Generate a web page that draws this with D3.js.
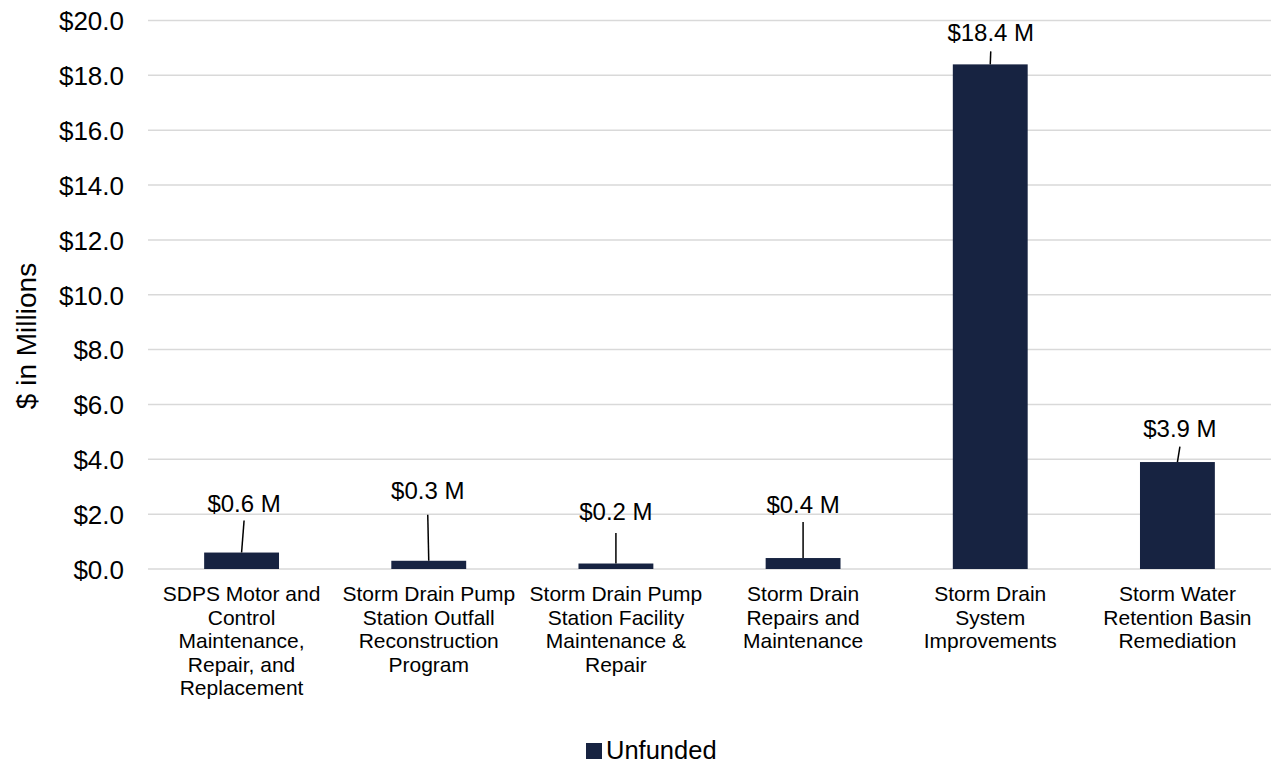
<!DOCTYPE html>
<html>
<head>
<meta charset="utf-8">
<script src="https://cdn.jsdelivr.net/npm/d3@7"></script>
<style>
  html, body { margin: 0; padding: 0; background: #ffffff; }
  svg { display: block; font-family: "Liberation Sans", Arial, sans-serif; }
</style>
</head>
<body>
<svg id="chart" width="1272" height="763"></svg>
<script>
// ---- data ----
const categories = [
  ["SDPS Motor and", "Control", "Maintenance,", "Repair, and", "Replacement"],
  ["Storm Drain Pump", "Station Outfall", "Reconstruction", "Program"],
  ["Storm Drain Pump", "Station Facility", "Maintenance &", "Repair"],
  ["Storm Drain", "Repairs and", "Maintenance"],
  ["Storm Drain", "System", "Improvements"],
  ["Storm Water", "Retention Basin", "Remediation"]
];
const unfunded = [0.6, 0.3, 0.2, 0.4, 18.4, 3.9];
const dataLabels = ["$0.6 M", "$0.3 M", "$0.2 M", "$0.4 M", "$18.4 M", "$3.9 M"];
const yTicks = [0, 2, 4, 6, 8, 10, 12, 14, 16, 18, 20];
const seriesName = "Unfunded";
const yTitle = "$ in Millions";

// ---- layout (label placement, px) ----
const labelDX = [2.5, -1, 0, 0, 0.5, 2.5];
const labelLift = [41, 62, 43.5, 45.5, 23, 25.5];
const leaderGap = [9, 16, 13, 9.5, 10, 10];

const svg = d3.select("#chart");
const margin = { left: 148, right: 1, top: 20.5, bottom: 194 };
const W = 1272, H = 763;
const x = d3.scaleBand().domain(d3.range(categories.length)).range([margin.left, W - margin.right]).padding(0);
const y = d3.scaleLinear().domain([0, 20]).range([H - margin.bottom, margin.top]);
const barColor = "#172341";

// gridlines
svg.append("g").selectAll("line").data(yTicks).join("line")
  .attr("x1", margin.left).attr("x2", W - margin.right)
  .attr("y1", d => y(d)).attr("y2", d => y(d))
  .attr("stroke", "#d9d9d9").attr("stroke-width", 1.5);

// y axis labels
const yAxis = d3.axisLeft(y).tickValues(yTicks).tickFormat(d => "$" + d3.format(".1f")(d)).tickSize(0).tickPadding(0);
const gy = svg.append("g").attr("transform", "translate(124,0)").call(yAxis);
gy.select(".domain").remove();
gy.selectAll("text").attr("font-size", 26).attr("fill", "#000").attr("font-family", "Liberation Sans, Arial, sans-serif").attr("dy", "0.36em");

// y title
svg.append("text")
  .attr("transform", `translate(36,336) rotate(-90)`)
  .attr("text-anchor", "middle").attr("font-size", 28).attr("fill", "#000")
  .text(yTitle);

// bars
const bw = x.bandwidth() * 0.4;
svg.append("g").selectAll("rect").data(unfunded).join("rect")
  .attr("x", (d, i) => x(i) + x.bandwidth() / 2 - bw / 2)
  .attr("width", bw)
  .attr("y", d => y(d))
  .attr("height", d => y(0) - y(d))
  .attr("fill", barColor);

// data labels + leader lines
const lg = svg.append("g");
unfunded.forEach((d, i) => {
  const cx = x(i) + x.bandwidth() / 2;
  const top = y(d);
  const base = top - labelLift[i];
  const lx = cx + labelDX[i];
  lg.append("text").attr("x", lx).attr("y", base)
    .attr("text-anchor", "middle").attr("font-size", 24).attr("fill", "#000")
    .text(dataLabels[i]);
  lg.append("line")
    .attr("x1", lx).attr("y1", base + leaderGap[i])
    .attr("x2", cx).attr("y2", top)
    .attr("stroke", "#000").attr("stroke-width", 1.5);
});

// category labels
const cg = svg.append("g");
categories.forEach((lines, i) => {
  const t = cg.append("text").attr("text-anchor", "middle").attr("font-size", 21).attr("fill", "#000");
  lines.forEach((ln, j) => {
    t.append("tspan").attr("x", x(i) + x.bandwidth() / 2).attr("y", 601 + j * 23.5).text(ln);
  });
});

// legend
const leg = svg.append("g");
leg.append("rect").attr("x", 586).attr("y", 743).attr("width", 16).attr("height", 16).attr("fill", barColor);
leg.append("text").attr("x", 606).attr("y", 759).attr("font-size", 25.5).attr("fill", "#000").text(seriesName);
</script>
</body>
</html>
